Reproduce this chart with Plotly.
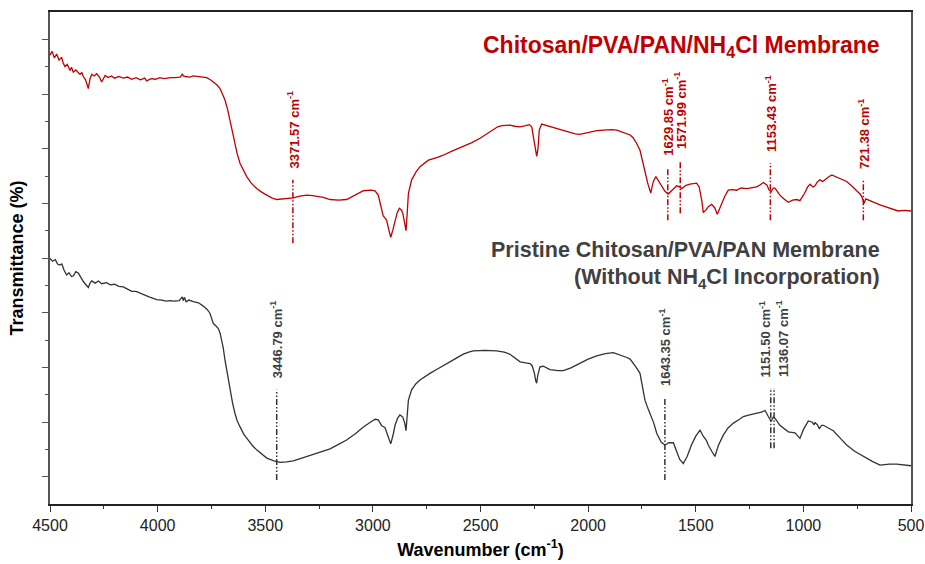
import plotly.graph_objects as go

# ---------------- data (wavenumber cm-1, transmittance a.u.) ----------------
red_wn = [4500, 4490, 4480, 4469, 4458, 4446, 4438, 4430, 4420, 4407, 4400, 4392, 4380, 4361, 4352, 4345,
          4335, 4322, 4314, 4306, 4295, 4283, 4270, 4260, 4252, 4244, 4230, 4215, 4200, 4180, 4159, 4140,
          4120, 4100, 4080, 4060, 4051, 4030, 4010, 3990, 3970, 3958, 3940, 3920, 3895, 3885, 3881, 3870,
          3850, 3835, 3818, 3800, 3785, 3772, 3755, 3741, 3725, 3710, 3700, 3687, 3675, 3664, 3652, 3641,
          3630, 3617, 3600, 3586, 3565, 3540, 3515, 3493, 3470, 3447, 3420, 3400, 3370, 3340, 3307, 3280,
          3250, 3230, 3199, 3160, 3122, 3090, 3044, 3010, 2990, 2975, 2965, 2952, 2943, 2936, 2925, 2917,
          2908, 2897, 2887, 2877, 2868, 2861, 2852, 2846, 2840, 2835, 2820, 2800, 2781, 2760, 2742, 2700,
          2673, 2630, 2580, 2540, 2502, 2460, 2420, 2400, 2363, 2340, 2316, 2290, 2273, 2262, 2252, 2245,
          2239, 2233, 2227, 2216, 2180, 2146, 2100, 2060, 2038, 2000, 1960, 1929, 1890, 1867, 1830, 1805,
          1791, 1775, 1759, 1748, 1736, 1722, 1709, 1697, 1685, 1672, 1658, 1643, 1628, 1610, 1589, 1575,
          1565, 1545, 1527, 1496, 1484, 1472, 1465, 1452, 1442, 1426, 1412, 1400, 1390, 1379, 1365, 1349,
          1330, 1310, 1290, 1263, 1240, 1217, 1200, 1186, 1169, 1160, 1150, 1140, 1132, 1109, 1090, 1070,
          1050, 1031, 1016, 995, 980, 969, 955, 946, 935, 923, 910, 892, 880, 868, 850, 830,
          799, 770, 750, 737, 728, 718, 710, 703, 680, 644, 610, 582, 560, 530, 500]
red_t = [82.1, 82.8, 81.6, 82.3, 81.2, 81.7, 80.6, 80.0, 80.4, 79.3, 79.9, 79.0, 79.4, 78.6, 78.9, 78.2,
         77.6, 76.0, 77.8, 78.6, 78.3, 78.7, 78.1, 77.2, 77.8, 78.4, 78.0, 78.3, 77.9, 78.2, 77.9, 78.1,
         77.7, 78.0, 77.6, 77.9, 77.4, 77.8, 77.7, 78.0, 77.8, 77.9, 78.0, 78.0, 78.1, 78.7, 78.3, 78.2,
         78.1, 78.3, 78.2, 78.2, 78.1, 78.0, 77.6, 77.2, 76.7, 76.0, 75.2, 73.9, 72.2, 70.2, 68.1, 66.0,
         64.0, 62.3, 60.8, 59.9, 58.7, 57.7, 57.0, 56.5, 56.0, 55.7, 55.8, 56.0, 56.0, 56.3, 56.5, 56.4,
         56.2, 56.1, 55.7, 55.6, 55.7, 56.3, 57.3, 57.4, 57.3, 56.5, 54.8, 52.7, 52.3, 51.9, 50.0, 48.8,
         50.0, 51.9, 53.3, 54.1, 53.8, 53.2, 51.5, 50.0, 53.5, 56.8, 59.3, 60.7, 61.7, 62.4, 62.9, 63.4,
         63.8, 64.6, 65.4, 66.1, 66.9, 68.0, 69.0, 69.2, 69.3, 69.1, 69.0, 69.2, 69.4, 69.0, 66.5, 64.5,
         63.6, 65.0, 68.4, 69.5, 69.1, 68.7, 68.1, 67.7, 67.6, 67.9, 68.3, 68.4, 68.5, 68.4, 67.9, 67.5,
         67.0, 66.0, 64.7, 62.8, 60.5, 58.5, 56.9, 59.0, 59.9, 59.0, 58.0, 57.2, 56.7, 57.4, 58.2, 58.0,
         57.7, 58.3, 58.5, 58.7, 58.0, 55.5, 53.3, 53.8, 54.4, 54.8, 54.2, 53.0, 54.0, 55.0, 56.3, 57.4,
         57.5, 57.4, 57.8, 57.7, 57.9, 58.0, 58.4, 58.8, 58.3, 57.5, 57.1, 57.8, 57.8, 56.5, 55.8, 55.2,
         55.6, 55.7, 55.5, 56.8, 58.0, 58.5, 58.0, 58.2, 58.9, 59.3, 59.0, 59.6, 59.9, 60.2, 59.9, 59.6,
         59.0, 58.0, 57.3, 56.7, 56.2, 55.0, 55.8, 55.7, 55.3, 54.7, 54.2, 53.8, 53.6, 53.7, 53.6]

black_wn = [4500, 4488, 4475, 4465, 4454, 4445, 4435, 4423, 4412, 4400, 4392, 4380, 4368, 4358, 4345, 4335,
            4322, 4314, 4306, 4290, 4275, 4260, 4237, 4220, 4200, 4180, 4159, 4140, 4120, 4100, 4082, 4060,
            4040, 4020, 4004, 3980, 3960, 3940, 3927, 3900, 3885, 3881, 3875, 3868, 3855, 3834, 3810, 3788,
            3770, 3757, 3748, 3741, 3730, 3718, 3710, 3702, 3695, 3687, 3675, 3664, 3652, 3641, 3630, 3617,
            3600, 3579, 3560, 3540, 3515, 3493, 3460, 3431, 3400, 3370, 3330, 3277, 3240, 3199, 3160, 3122,
            3080, 3044, 3010, 2990, 2975, 2959, 2944, 2930, 2917, 2905, 2897, 2885, 2874, 2861, 2852, 2846,
            2840, 2835, 2820, 2800, 2781, 2760, 2735, 2700, 2657, 2620, 2580, 2555, 2533, 2480, 2425, 2390,
            2363, 2340, 2316, 2290, 2270, 2260, 2250, 2243, 2239, 2234, 2224, 2208, 2177, 2140, 2115, 2080,
            2038, 2000, 1960, 1920, 1883, 1850, 1820, 1805, 1790, 1775, 1759, 1748, 1736, 1725, 1712, 1695,
            1681, 1660, 1643, 1625, 1604, 1590, 1575, 1558, 1540, 1520, 1500, 1480, 1465, 1450, 1442, 1425,
            1411, 1395, 1372, 1350, 1325, 1300, 1279, 1250, 1217, 1195, 1178, 1165, 1150, 1140, 1132, 1109,
            1090, 1070, 1039, 1025, 1016, 1000, 977, 960, 950, 946, 935, 926, 915, 907, 880, 861,
            830, 799, 760, 721, 680, 644, 600, 567, 530, 500]
black_t = [44.9, 44.4, 44.7, 43.9, 43.7, 43.9, 42.8, 41.9, 42.3, 41.6, 41.7, 42.5, 42.2, 41.5, 40.7, 40.2,
           39.6, 40.4, 40.8, 40.4, 40.8, 40.3, 40.5, 40.1, 40.2, 39.8, 39.7, 39.3, 38.9, 38.9, 38.6, 38.1,
           37.9, 37.6, 37.4, 37.3, 37.1, 37.2, 37.1, 37.2, 37.9, 37.2, 37.8, 37.0, 37.3, 37.0, 36.8, 36.2,
           35.6, 34.9, 34.0, 33.0, 32.6, 32.1, 31.3, 30.0, 28.5, 26.3, 23.5, 20.8, 18.5, 16.6, 15.2, 14.1,
           12.8, 11.7, 10.7, 9.9, 9.1, 8.4, 7.9, 7.6, 7.7, 7.9, 8.4, 9.1, 9.6, 10.1, 10.9, 11.7,
           12.9, 14.1, 15.0, 15.5, 15.4, 14.3, 14.0, 12.5, 11.0, 12.8, 14.4, 15.7, 16.3, 15.9, 14.8, 13.4,
           16.5, 19.0, 20.9, 22.0, 22.7, 23.3, 23.9, 24.7, 25.6, 26.5, 27.4, 27.8, 28.0, 28.1, 28.0, 27.8,
           27.4, 26.7, 26.0, 25.8, 25.7, 25.3, 24.0, 22.5, 22.1, 23.5, 25.1, 25.2, 24.6, 24.4, 24.4, 24.9,
           25.7, 26.5, 27.1, 27.5, 27.7, 27.3, 26.8, 26.5, 25.8, 24.9, 23.9, 21.8, 19.0, 17.8, 16.6, 14.8,
           12.9, 11.3, 10.8, 11.2, 11.2, 9.9, 8.2, 7.4, 8.7, 10.8, 12.4, 13.5, 12.4, 11.6, 10.8, 9.6,
           8.7, 10.7, 12.6, 13.9, 14.8, 15.4, 16.0, 16.3, 16.6, 16.8, 17.1, 16.2, 15.1, 15.9, 15.7, 14.4,
           13.8, 13.2, 13.0, 12.5, 12.0, 13.6, 15.2, 15.0, 14.5, 14.9, 14.5, 13.8, 14.4, 14.4, 13.9, 13.4,
           12.1, 10.8, 9.6, 8.7, 7.8, 7.1, 7.3, 7.3, 7.1, 7.0]

red_peaks = [3371.57, 1629.85, 1571.99, 1153.43, 721.38]
black_peaks = [3446.79, 1643.35, 1151.50, 1136.07]

x_ticks = [4500, 4000, 3500, 3000, 2500, 2000, 1500, 1000, 500]

# ---------------- styling / placement ----------------
RED = "#C00000"
DARK = "#333333"
TXT_DARK = "#404040"
FONT = "Liberation Sans"

# marker line extents (bottom, top) and label base, in axis units
red_marks = [(47.7, 59.3, 61.0), (51.9, 61.6, 63.3), (53.2, 62.9, 64.6), (51.9, 62.4, 64.0), (51.9, 59.3, 61.0)]
black_marks = [(4.4, 20.9, 22.6), (4.4, 19.4, 21.2), (10.2, 21.2, 22.8), (10.2, 21.2, 22.8)]
black_label_shift = [0, 0, -6, 8]
DASH = "6px,2px,1.5px,2px,1.5px,2px"

fig = go.Figure()
fig.add_trace(go.Scatter(x=red_wn, y=red_t, mode="lines",
                         line=dict(color=RED, width=1.3), showlegend=False))
fig.add_trace(go.Scatter(x=black_wn, y=black_t, mode="lines",
                         line=dict(color=DARK, width=1.3), showlegend=False))

shapes = []
annotations = []
for pk, (y0, y1, yt) in zip(red_peaks, red_marks):
    shapes.append(dict(type="line", xref="x", yref="y", x0=pk, x1=pk, y0=y0, y1=y1,
                       line=dict(color=RED, width=1.5, dash=DASH)))
    annotations.append(dict(x=pk, y=yt, xref="x", yref="y", text=f"{pk:.2f} cm<sup>-1</sup>",
                            textangle=-90, showarrow=False, xanchor="center", yanchor="bottom",
                            font=dict(family=FONT, size=13, color=RED, weight="bold")))
for pk, (y0, y1, yt), xs in zip(black_peaks, black_marks, black_label_shift):
    shapes.append(dict(type="line", xref="x", yref="y", x0=pk, x1=pk, y0=y0, y1=y1,
                       line=dict(color=DARK, width=1.5, dash=DASH)))
    annotations.append(dict(x=pk, y=yt, xref="x", yref="y", text=f"{pk:.2f} cm<sup>-1</sup>",
                            textangle=-90, showarrow=False, xanchor="center", yanchor="bottom",
                            xshift=xs,
                            font=dict(family=FONT, size=13, color=TXT_DARK, weight="bold")))

annotations.append(dict(x=0.966, y=83.6, xref="paper", yref="y",
                        text="Chitosan/PVA/PAN/NH<sub>4</sub>Cl Membrane",
                        showarrow=False, xanchor="right", yanchor="middle",
                        font=dict(family=FONT, size=23, color=RED, weight="bold")))
annotations.append(dict(x=0.966, y=46.5, xref="paper", yref="y",
                        text="Pristine Chitosan/PVA/PAN Membrane",
                        showarrow=False, xanchor="right", yanchor="middle",
                        font=dict(family=FONT, size=21.5, color=TXT_DARK, weight="bold")))
annotations.append(dict(x=0.966, y=41.2, xref="paper", yref="y",
                        text="(Without NH<sub>4</sub>Cl Incorporation)",
                        showarrow=False, xanchor="right", yanchor="middle",
                        font=dict(family=FONT, size=21.5, color=TXT_DARK, weight="bold")))

fig.update_layout(
    width=925, height=564,
    margin=dict(l=50, r=14, t=12, b=60),
    paper_bgcolor="white", plot_bgcolor="white",
    font=dict(family=FONT, color="black"),
    shapes=shapes, annotations=annotations,
    xaxis=dict(range=[4500, 500], tickmode="array", tickvals=x_ticks,
               ticktext=[str(v) for v in x_ticks], automargin=False,
               ticks="outside", ticklen=6, tickwidth=1.2, tickcolor="#333",
               minor=dict(tickmode="array", tickvals=[4250, 3750, 3250, 2750, 2250, 1750, 1250, 750],
                          ticks="outside", ticklen=3, tickcolor="#333", tickwidth=1.2),
               showline=True, linecolor="#222", linewidth=1.5, mirror=True,
               showgrid=False, zeroline=False,
               tickfont=dict(family=FONT, size=16, color="#222"),
               title=dict(text="Wavenumber (cm<sup>-1</sup>)", standoff=10,
                          font=dict(family=FONT, size=18, color="black", weight="bold"))),
    yaxis=dict(range=[0, 90], tickmode="array", tickvals=[5, 15, 25, 35, 45, 55, 65, 75, 85],
               showticklabels=False, automargin=False,
               ticks="outside", ticklen=6, tickwidth=1.2, tickcolor="#555",
               minor=dict(tickmode="array", tickvals=[10, 20, 30, 40, 50, 60, 70, 80],
                          ticks="outside", ticklen=3, tickcolor="#555", tickwidth=1.2),
               showline=True, linecolor="#555", linewidth=1.5, mirror=True,
               showgrid=False, zeroline=False,
               title=dict(text="Transmittance (%)", standoff=14,
                          font=dict(family=FONT, size=18, color="black", weight="bold"))),
)

# remove the default 8px page margin so the 925x564 figure fills the window exactly
fig.write_html("out.html", config={"displayModeBar": False},
               post_script="document.body.style.margin='0';document.body.style.overflow='hidden';")
